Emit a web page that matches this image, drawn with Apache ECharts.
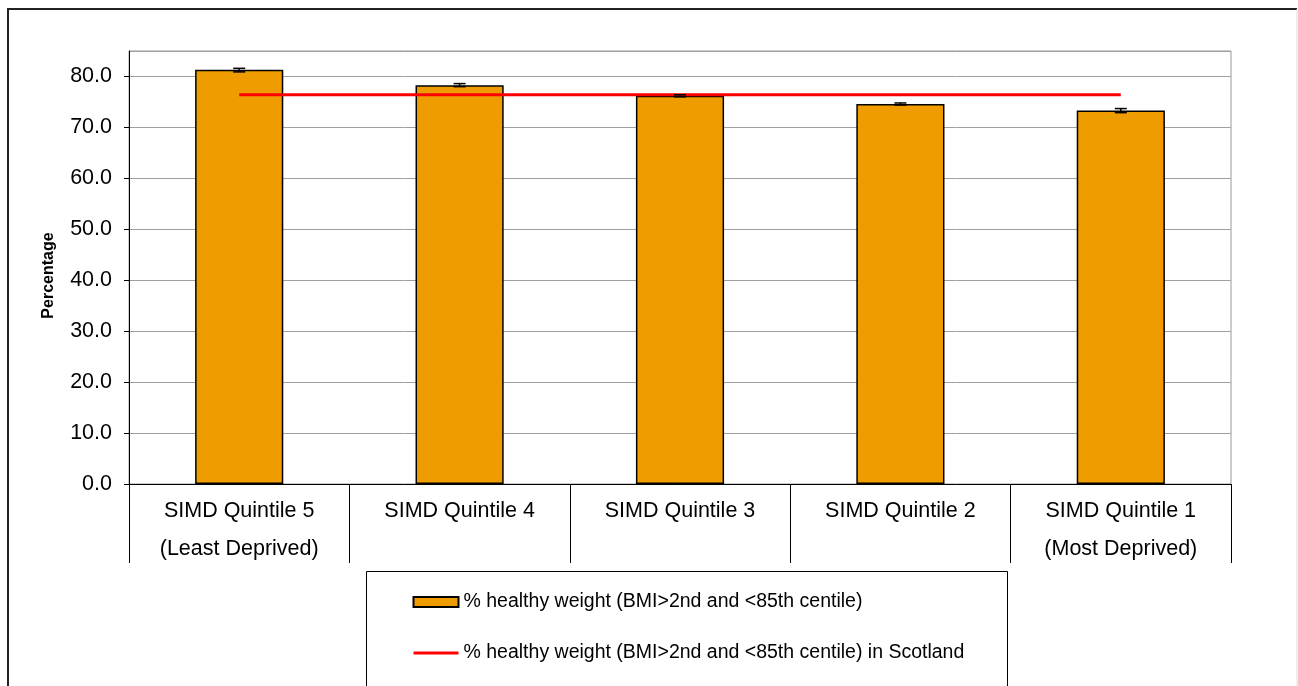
<!DOCTYPE html>
<html>
<head>
<meta charset="utf-8">
<script src="https://cdn.jsdelivr.net/npm/echarts@6/dist/echarts.min.js"></script>
<style>
html,body{margin:0;padding:0;background:#fff;}
#main{width:1298px;height:686px;}
</style>
</head>
<body>
<div id="main"></div>
<script>
const categories = ['SIMD Quintile 5\n(Least Deprived)', 'SIMD Quintile 4', 'SIMD Quintile 3', 'SIMD Quintile 2', 'SIMD Quintile 1\n(Most Deprived)'];
const healthyWeight = [81.3, 78.3, 76.2, 74.6, 73.3];
const errLow = [80.9, 78.0, 76.0, 74.4, 72.9];
const errHigh = [81.6, 78.6, 76.4, 74.8, 73.7];
const scotland = [76.4, 76.4, 76.4, 76.4, 76.4];
const seriesNames = ['% healthy weight (BMI>2nd and <85th centile)', '% healthy weight (BMI>2nd and <85th centile) in Scotland'];

const FONT = "'Liberation Sans', Arial, sans-serif";
const chart = echarts.init(document.getElementById('main'));
const errData = categories.map((c, i) => [i, errLow[i], errHigh[i]]);

chart.setOption({
  animation: false,
  textStyle: {fontFamily: FONT, color: '#000'},
  grid: {left: 129, top: 51, width: 1102, height: 433, show: true, borderColor: '#999', borderWidth: 1, backgroundColor: '#fff'},
  xAxis: {
    type: 'category',
    data: categories,
    axisLine: {lineStyle: {color: '#000', width: 1}},
    axisTick: {show: true, length: 79, alignWithLabel: false, lineStyle: {color: '#000', width: 1}},
    axisLabel: {fontSize: 21.5, color: '#000', lineHeight: 38, margin: 8, fontFamily: FONT, interval: 0}
  },
  yAxis: {
    type: 'value',
    min: 0, max: 85, interval: 10,
    name: 'Percentage',
    nameLocation: 'middle',
    nameRotate: 90,
    nameGap: 72,
    nameTextStyle: {fontSize: 16, fontWeight: 'bold', color: '#000', fontFamily: FONT, padding: [0, 16, 0, 0]},
    axisLine: {show: true, lineStyle: {color: '#000', width: 1}},
    axisTick: {show: true, length: 5, lineStyle: {color: '#000'}},
    axisLabel: {fontSize: 21.5, color: '#000', margin: 17, fontFamily: FONT, showMaxLabel: false,
      formatter: v => v.toFixed(1)},
    splitLine: {show: true, lineStyle: {color: '#a0a0a0', width: 1}}
  },
  legend: {
    orient: 'vertical',
    left: 407, top: 587,
    itemWidth: 45, itemHeight: 10,
    itemGap: 31,
    textStyle: {fontSize: 19.5, color: '#000', fontFamily: FONT, lineHeight: 20},
    data: [
      {name: seriesNames[0], icon: 'rect'},
      {name: seriesNames[1], itemStyle: {opacity: 0}, lineStyle: {width: 3, color: '#FF0000'}}
    ]
  },
  graphic: [
    {type: 'polyline', shape: {points: [[8, 700], [8, 9], [1297, 9]]}, style: {stroke: '#222', lineWidth: 2, fill: null}},
    {type: 'line', shape: {x1: 1297, y1: 9, x2: 1297, y2: 700}, style: {stroke: '#ddd', lineWidth: 1}},
    {type: 'rect', shape: {x: 366.5, y: 571.5, width: 641, height: 120}, style: {stroke: '#000', lineWidth: 1, fill: null}, z: 0}
  ],
  series: [
    {
      name: seriesNames[0],
      type: 'bar',
      data: healthyWeight,
      barWidth: '40%',
      itemStyle: {color: '#EF9C00', borderColor: '#000', borderWidth: 1.5},
      z: 2
    },
    {
      name: seriesNames[1],
      type: 'line',
      data: scotland,
      symbol: 'none',
      lineStyle: {color: '#FF0000', width: 3},
      itemStyle: {color: '#FF0000'},
      z: 4
    },
    {
      name: 'err',
      type: 'custom',
      data: errData,
      z: 5,
      renderItem: function (params, api) {
        const x = api.value(0);
        const lo = api.coord([x, api.value(1)]);
        const hi = api.coord([x, api.value(2)]);
        const hw = 6;
        const st = {stroke: '#000', lineWidth: 1.5};
        return {type: 'group', children: [
          {type: 'line', shape: {x1: lo[0], y1: lo[1], x2: hi[0], y2: hi[1]}, style: st},
          {type: 'line', shape: {x1: lo[0] - hw, y1: lo[1], x2: lo[0] + hw, y2: lo[1]}, style: st},
          {type: 'line', shape: {x1: hi[0] - hw, y1: hi[1], x2: hi[0] + hw, y2: hi[1]}, style: st}
        ]};
      }
    }
  ]
});
</script>
</body>
</html>
